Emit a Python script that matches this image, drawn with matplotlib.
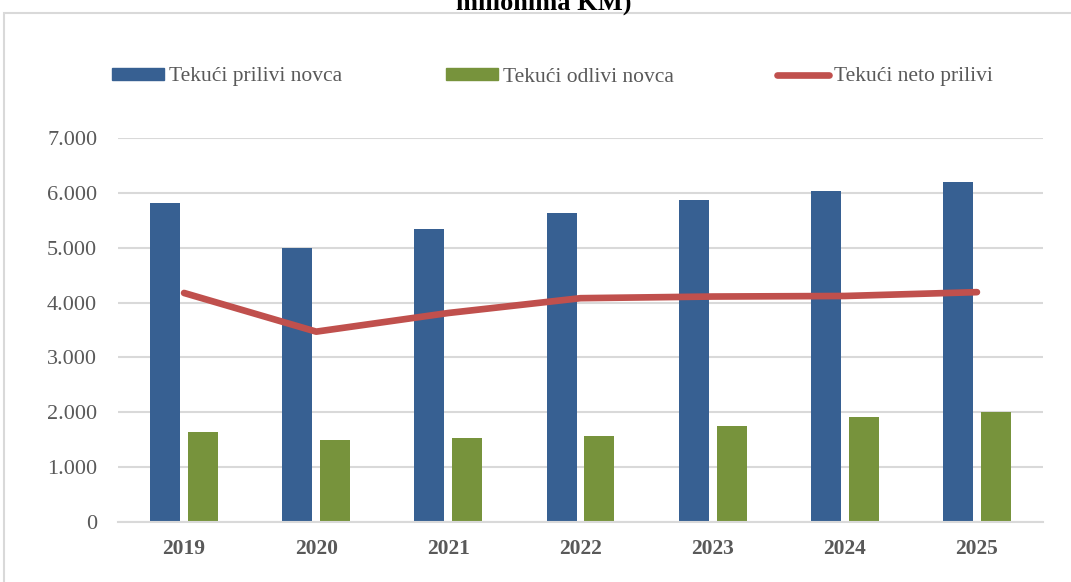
import matplotlib.pyplot as plt
import numpy as np
from matplotlib.patches import Rectangle, Patch
from matplotlib.lines import Line2D

# === Data (u milionima KM) ===
years = ['2019', '2020', '2021', '2022', '2023', '2024', '2025']
prilivi = [5815, 4995, 5340, 5630, 5870, 6035, 6190]
odlivi = [1640, 1495, 1530, 1570, 1750, 1920, 2005]
neto = [4175, 3470, 3810, 4080, 4110, 4120, 4190]

blue = '#376092'
green = '#77933C'
red = '#C0504D'
grey_txt = '#595959'
grid_c = '#D9D9D9'

plt.rcParams['font.family'] = ['Liberation Serif', 'DejaVu Serif']

fig = plt.figure(figsize=(10.71, 5.82), dpi=100)
W, H = 1071, 582
ax = fig.add_axes([118 / W, 1 - 522 / H, (1043 - 118) / W, (522 - 138) / H])

x = np.arange(len(years))
bw = 0.227
gap = 0.06
ax.bar(x - (bw + gap) / 2, prilivi, width=bw, color=blue, zorder=2)
ax.bar(x + (bw + gap) / 2, odlivi, width=bw, color=green, zorder=2)
ax.plot(x, neto, color=red, lw=4.8, solid_capstyle='round', solid_joinstyle='round', zorder=3)

ax.set_xlim(-0.5, len(years) - 0.5)
ax.set_ylim(0, 7000)
ax.set_yticks(range(0, 7001, 1000))
ax.set_yticklabels(['0' if v == 0 else f'{v // 1000}.000' for v in range(0, 7001, 1000)])
ax.set_xticks(x)
ax.set_xticklabels(years, fontweight='bold')
ax.tick_params(axis='both', length=0, colors=grey_txt)
ax.tick_params(axis='y', pad=15, labelsize=16)
ax.tick_params(axis='x', pad=12, labelsize=15.5)
ax.grid(axis='y', color=grid_c, lw=1.5, zorder=0)
for s in ['top', 'right', 'left']:
    ax.spines[s].set_visible(False)
ax.spines['bottom'].set_color(grid_c)
ax.spines['bottom'].set_linewidth(1.5)

# outer chart frame
fig.patches.append(Rectangle((4 / W, -0.1), 1.2, 1 - 13 / H + 0.1, transform=fig.transFigure,
                             fill=False, edgecolor=grid_c, lw=1.5))

# title - only the lower part of its last line shows in the picture
fig.text(544 / W, 1 - 10 / H, 'milionima KM)', ha='center', va='baseline', fontsize=19,
         fontweight='bold', color='black')

handles = [Patch(color=blue), Patch(color=green), Line2D([], [], color=red, lw=4.8, solid_capstyle='round')]
labels = ['Tekući prilivi novca', 'Tekući odlivi novca', 'Tekući neto prilivi']
fig.legend(handles, labels, loc='center left', bbox_to_anchor=(93 / W, 1 - 77 / H), ncol=3,
           frameon=False, fontsize=15.5, handlelength=2.42, handleheight=0.51, handletextpad=0.23,
           columnspacing=4.8, labelcolor=grey_txt)

fig.savefig('out.png', dpi=100)
